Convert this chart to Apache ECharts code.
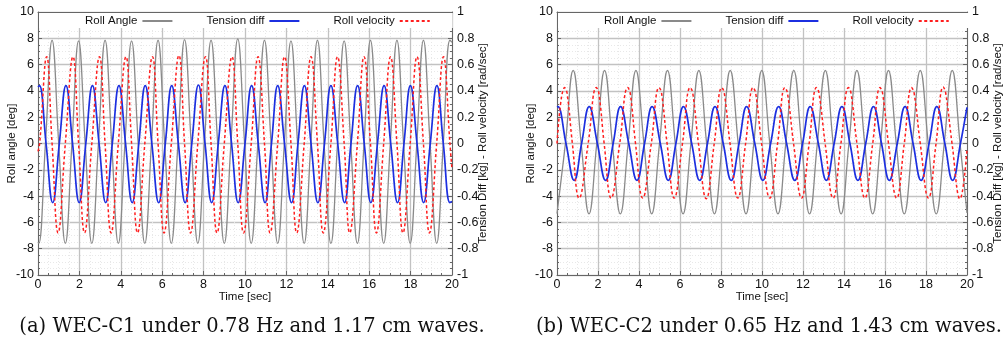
<!DOCTYPE html>
<html>
<head>
<meta charset="utf-8">
<script src="https://cdn.jsdelivr.net/npm/echarts@6/dist/echarts.min.js"></script>
<style>
html,body{margin:0;padding:0;background:#fff;}
#chart{width:1005px;height:344px;}
</style>
</head>
<body>
<div id="chart"></div>
<script>
// ---------- DATA ----------
const seriesNames = ['Roll Angle', 'Tension diff', 'Roll velocity'];
const captions = ['(a) WEC-C1 under 0.78 Hz and 1.17 cm waves.', '(b) WEC-C2 under 0.65 Hz and 1.43 cm waves.'];
const leftTicks = [-10, 10, 2];
const rightTicks = [-1, 1, 0.2];
const timeTicks = [0, 20, 2];

// (a) WEC-C1 : [time sec, roll angle deg]
const rollAngleA = [[0,-7.5],[0.04,-7.6],[0.36,0],[0.68,7.85],[1.0,0],[1.32,-7.6],[1.64,0],[1.96,7.8],[2.28,0],[2.6,-7.6],[2.92,0],[3.24,7.85],[3.56,0],[3.88,-7.6],[4.2,0],[4.52,7.8],[4.84,0],[5.16,-7.6],[5.48,0],[5.8,7.85],[6.12,0],[6.44,-7.6],[6.76,0],[7.08,7.9],[7.4,0],[7.72,-7.6],[8.04,0],[8.36,7.85],[8.68,0],[9.0,-7.6],[9.32,0],[9.65,7.95],[9.98,0],[10.3,-7.6],[10.62,0],[10.94,7.85],[11.26,0],[11.58,-7.6],[11.9,0],[12.22,7.8],[12.54,0],[12.86,-7.6],[13.18,0],[13.5,7.85],[13.82,0],[14.15,-7.6],[14.47,0],[14.79,7.8],[15.11,0],[15.43,-7.6],[15.75,0],[16.06,7.85],[16.38,0],[16.7,-7.6],[17.02,0],[17.34,7.85],[17.66,0],[17.98,-7.6],[18.3,0],[18.62,7.85],[18.94,0],[19.26,-7.6],[19.58,0],[19.9,7.85],[20,7.7]];
// (a) tension difference [kg]
const tensionA = [[0,0.43],[0.07,0.44],[0.39,0],[0.71,-0.45],[1.03,0],[1.35,0.44],[1.67,0],[1.99,-0.45],[2.31,0],[2.63,0.44],[2.95,0],[3.27,-0.45],[3.59,0],[3.91,0.44],[4.23,0],[4.55,-0.45],[4.87,0],[5.18,0.44],[5.5,0],[5.83,-0.45],[6.15,0],[6.46,0.44],[6.78,0],[7.11,-0.45],[7.43,0],[7.75,0.445],[8.07,0],[8.39,-0.45],[8.71,0],[9.03,0.44],[9.35,0],[9.67,-0.45],[10.0,0],[10.32,0.44],[10.64,0],[10.97,-0.45],[11.28,0],[11.58,0.44],[11.91,0],[12.25,-0.45],[12.56,0],[12.87,0.44],[13.19,0],[13.52,-0.45],[13.84,0],[14.15,0.44],[14.48,0],[14.81,-0.45],[15.12,0],[15.44,0.44],[15.76,0],[16.08,-0.45],[16.4,0],[16.72,0.44],[17.04,0],[17.37,-0.45],[17.68,0],[17.99,0.44],[18.31,0],[18.63,-0.45],[18.95,0],[19.27,0.44],[19.58,0],[19.9,-0.45],[20,-0.44]];
// (a) roll velocity [rad/sec]
const rollVelA = [[0,-0.06],[0.08,0],[0.42,0.66],[0.68,0],[0.97,-0.68],[1.32,0],[1.69,0.66],[1.96,0],[2.25,-0.68],[2.6,0],[2.97,0.66],[3.24,0],[3.53,-0.68],[3.88,0],[4.25,0.66],[4.52,0],[4.81,-0.68],[5.16,0],[5.53,0.66],[5.8,0],[6.09,-0.68],[6.44,0],[6.81,0.67],[7.08,0],[7.37,-0.68],[7.72,0],[8.09,0.66],[8.36,0],[8.65,-0.68],[9.0,0],[9.37,0.66],[9.65,0],[9.93,-0.68],[10.3,0],[10.63,0.66],[10.94,0],[11.21,-0.68],[11.58,0],[11.91,0.66],[12.22,0],[12.5,-0.68],[12.86,0],[13.19,0.66],[13.5,0],[13.78,-0.68],[14.15,0],[14.47,0.66],[14.79,0],[15.06,-0.68],[15.43,0],[15.75,0.66],[16.06,0],[16.35,-0.68],[16.7,0],[17.03,0.66],[17.34,0],[17.63,-0.68],[17.98,0],[18.31,0.66],[18.62,0],[18.91,-0.68],[19.26,0],[19.59,0.66],[19.9,0],[20,-0.2]];

// (b) WEC-C2 : [time sec, roll angle deg]
const rollAngleB = [[0,-5.33],[0.03,-5.35],[0.41,0],[0.79,5.55],[1.18,0],[1.56,-5.35],[1.94,0],[2.32,5.55],[2.7,0],[3.09,-5.35],[3.47,0],[3.85,5.55],[4.24,0],[4.62,-5.35],[5.0,0],[5.39,5.55],[5.77,0],[6.15,-5.35],[6.53,0],[6.92,5.55],[7.3,0],[7.68,-5.35],[8.06,0],[8.45,5.55],[8.84,0],[9.22,-5.35],[9.6,0],[9.99,5.55],[10.38,0],[10.78,-5.35],[11.16,0],[11.55,5.55],[11.93,0],[12.32,-5.35],[12.7,0],[13.09,5.55],[13.47,0],[13.86,-5.35],[14.24,0],[14.63,5.55],[15.01,0],[15.4,-5.35],[15.78,0],[16.17,5.55],[16.55,0],[16.94,-5.35],[17.33,0],[17.72,5.55],[18.11,0],[18.5,-5.35],[18.89,0],[19.28,5.55],[19.66,0],[20,-5.28]];
// (b) tension difference [kg]
const tensionB = [[0,0.278],[0.04,0.28],[0.44,0],[0.84,-0.28],[1.2,0],[1.57,0.28],[1.97,0],[2.37,-0.28],[2.74,0],[3.1,0.28],[3.5,0],[3.9,-0.28],[4.27,0],[4.64,0.28],[5.04,0],[5.43,-0.28],[5.8,0],[6.17,0.28],[6.57,0],[6.96,-0.28],[7.34,0],[7.71,0.28],[8.11,0],[8.5,-0.28],[8.88,0],[9.25,0.28],[9.65,0],[10.04,-0.28],[10.42,0],[10.81,0.28],[11.2,0],[11.6,-0.28],[11.98,0],[12.35,0.28],[12.75,0],[13.14,-0.28],[13.52,0],[13.9,0.28],[14.29,0],[14.68,-0.28],[15.06,0],[15.44,0.28],[15.83,0],[16.21,-0.28],[16.6,0],[16.98,0.28],[17.37,0],[17.76,-0.28],[18.15,0],[18.53,0.28],[18.92,0],[19.3,-0.28],[19.68,0],[20,0.275]];
// (b) roll velocity [rad/sec]
const rollVelB = [[0,0],[0.37,0.425],[0.49,0.385],[0.75,0],[1.08,-0.415],[1.52,0],[1.92,0.425],[2.04,0.385],[2.3,0],[2.64,-0.415],[3.06,0],[3.45,0.425],[3.57,0.385],[3.83,0],[4.18,-0.415],[4.6,0],[4.98,0.425],[5.1,0.385],[5.37,0],[5.72,-0.415],[6.12,0],[6.5,0.425],[6.62,0.385],[6.9,0],[7.28,-0.42],[7.67,0],[8.04,0.425],[8.16,0.385],[8.44,0],[8.82,-0.415],[9.2,0],[9.57,0.425],[9.69,0.385],[9.98,0],[10.38,-0.415],[10.76,0],[11.12,0.425],[11.24,0.385],[11.54,0],[11.93,-0.415],[12.3,0],[12.66,0.425],[12.78,0.385],[13.08,0],[13.47,-0.415],[13.85,0],[14.22,0.425],[14.34,0.385],[14.63,0],[15.02,-0.415],[15.4,0],[15.76,0.425],[15.88,0.385],[16.17,0],[16.57,-0.415],[16.94,0],[17.3,0.425],[17.42,0.385],[17.72,0],[18.12,-0.415],[18.49,0],[18.84,0.43],[18.96,0.385],[19.27,0],[19.66,-0.42],[20,-0.05]];

// ---------- CHART ----------
const FONT = '"Liberation Sans", Arial, Helvetica, sans-serif';
const grids = [
  {left: 38, top: 12, width: 414, height: 263},
  {left: 557, top: 12, width: 413, height: 263}
];
const AX = '#666';
const MAJOR = '#c2c2c2';
const MINOR = '#e8e8e8';

function xBottom(g) {
  return {
    type: 'value', gridIndex: g, position: 'bottom',
    min: timeTicks[0], max: timeTicks[1], interval: timeTicks[2],
    name: 'Time [sec]', nameLocation: 'middle', nameGap: 16, nameMoveOverlap: false,
    nameTextStyle: {fontFamily: FONT, fontSize: 11.5, color: '#111'},
    axisLine: {show: true, onZero: false, lineStyle: {color: AX, width: 1}},
    axisTick: {show: true, inside: true, length: 4, lineStyle: {color: AX}},
    minorTick: {show: true, splitNumber: 4, length: 2, lineStyle: {color: AX}},
    axisLabel: {fontFamily: FONT, fontSize: 12.5, color: '#111', margin: 3},
    splitLine: {show: true, lineStyle: {color: MAJOR, width: 1.3}},
    minorSplitLine: {show: true, lineStyle: {color: MINOR, width: 1, type: [1, 2]}}
  };
}
function xTop(g) {
  return {
    type: 'value', gridIndex: g, position: 'top',
    min: timeTicks[0], max: timeTicks[1], interval: timeTicks[2],
    axisLine: {show: true, onZero: false, lineStyle: {color: AX, width: 1}},
    axisTick: {show: true, inside: true, length: 4, lineStyle: {color: AX}},
    minorTick: {show: true, splitNumber: 4, length: 2, lineStyle: {color: AX}},
    axisLabel: {show: false}, splitLine: {show: false}
  };
}
function yLeft(g) {
  return {
    type: 'value', gridIndex: g, position: 'left',
    min: leftTicks[0], max: leftTicks[1], interval: leftTicks[2],
    name: 'Roll angle [deg]', nameLocation: 'middle', nameGap: 20, nameRotate: 90, nameMoveOverlap: false,
    nameTextStyle: {fontFamily: FONT, fontSize: 11.5, color: '#111'},
    axisLine: {show: true, onZero: false, lineStyle: {color: AX, width: 1}},
    axisTick: {show: true, inside: true, length: 4, lineStyle: {color: AX}},
    minorTick: {show: true, splitNumber: 4, length: 2, lineStyle: {color: AX}},
    axisLabel: {fontFamily: FONT, fontSize: 12.5, color: '#111', margin: 4},
    splitLine: {show: true, lineStyle: {color: MAJOR, width: 1.3}},
    minorSplitLine: {show: true, lineStyle: {color: MINOR, width: 1, type: [1, 2]}}
  };
}
function yRight(g) {
  return {
    type: 'value', gridIndex: g, position: 'right',
    min: rightTicks[0], max: rightTicks[1], interval: rightTicks[2],
    name: 'Tension Diff [kg] - Roll velocity [rad/sec]', nameLocation: 'middle', nameGap: 25, nameRotate: 90, nameMoveOverlap: false,
    nameTextStyle: {fontFamily: FONT, fontSize: 11.5, color: '#111'},
    axisLine: {show: true, onZero: false, lineStyle: {color: AX, width: 1}},
    axisTick: {show: true, inside: true, length: 4, lineStyle: {color: AX}},
    minorTick: {show: true, splitNumber: 4, length: 2, lineStyle: {color: AX}},
    axisLabel: {fontFamily: FONT, fontSize: 12.5, color: '#111', margin: 5,
      formatter: v => String(Math.round(v * 10) / 10)},
    splitLine: {show: false}
  };
}
function legend(g) {
  return {
    data: seriesNames, left: grids[g].left + 1, top: 13,
    padding: [2, 22, 1, 46], itemGap: 33, itemWidth: 30, itemHeight: 12,
    align: 'right', backgroundColor: '#fff',
    itemStyle: {opacity: 0},
    textStyle: {fontFamily: FONT, fontSize: 11.5, color: '#111'},
    selectedMode: false
  };
}
function lines(g, angle, tension, vel) {
  return [
    {type: 'line', name: seriesNames[0], xAxisIndex: g * 2, yAxisIndex: g * 2, data: angle,
     smooth: 0.45, symbol: 'none', lineStyle: {color: '#8a8a8a', width: 1.3}, itemStyle: {color: '#8a8a8a'}, z: 3},
    {type: 'line', name: seriesNames[1], xAxisIndex: g * 2, yAxisIndex: g * 2 + 1, data: tension,
     smooth: 0.45, symbol: 'none', lineStyle: {color: '#1c2fe0', width: 1.7}, itemStyle: {color: '#1c2fe0'}, z: 4},
    {type: 'line', name: seriesNames[2], xAxisIndex: g * 2, yAxisIndex: g * 2 + 1, data: vel,
     smooth: 0.45, symbol: 'none', lineStyle: {color: '#ff1e1e', width: 1.5, type: [3, 2.5]}, itemStyle: {color: '#ff1e1e'}, z: 5}
  ];
}

const chart = echarts.init(document.getElementById('chart'), null, {renderer: 'canvas'});
chart.setOption({
  animation: false,
  backgroundColor: '#fff',
  grid: grids,
  xAxis: [xBottom(0), xTop(0), xBottom(1), xTop(1)],
  yAxis: [yLeft(0), yRight(0), yLeft(1), yRight(1)],
  legend: [legend(0), legend(1)],
  series: [].concat(lines(0, rollAngleA, tensionA, rollVelA), lines(1, rollAngleB, tensionB, rollVelB)),
  graphic: [
    {type: 'text', x: 252, y: 327, style: {text: captions[0], font: '19.5px "DejaVu Serif", serif', fill: '#111', textAlign: 'center', textVerticalAlign: 'middle'}},
    {type: 'text', x: 769, y: 327, style: {text: captions[1], font: '19.5px "DejaVu Serif", serif', fill: '#111', textAlign: 'center', textVerticalAlign: 'middle'}}
  ]
});
</script>
</body>
</html>
